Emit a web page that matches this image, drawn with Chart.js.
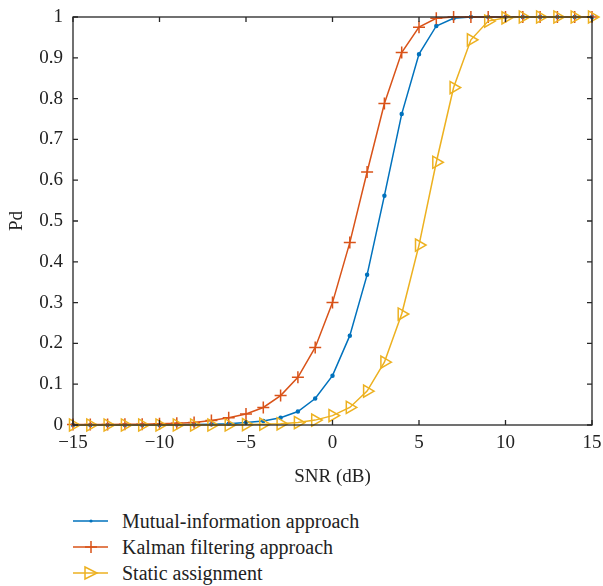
<!DOCTYPE html>
<html>
<head>
<meta charset="utf-8">
<script src="https://cdn.jsdelivr.net/npm/chart.js@4.4.1/dist/chart.umd.min.js"></script>
<style>
  body { margin: 0; background: #fff; }
  #wrap { position: relative; width: 603px; height: 495px; }
  #legend { position: absolute; left: 73px; top: 508px; font-family: "Liberation Serif", serif; font-size: 20px; color: #222; }
  #legend div { height: 26px; line-height: 26px; display: flex; align-items: center; }
  #legend svg { margin-right: 14px; }
</style>
</head>
<body>
<div id="wrap"><canvas id="graphCanvas" width="603" height="495"></canvas></div>
<div id="legend"></div>
<script>
var snr = [];
for (var s = -15; s <= 15; s++) snr.push(s);

var mutualInfo = [0, 0, 0, 0, 0, 0, 0.001, 0.001, 0.002, 0.003, 0.006, 0.01, 0.018, 0.033, 0.065, 0.121,
                  0.219, 0.368, 0.562, 0.762, 0.909, 0.978, 0.997, 1, 1, 1, 1, 1, 1, 1, 1];
var kalman = [0.001, 0.001, 0.001, 0.002, 0.002, 0.003, 0.004, 0.006, 0.011, 0.018, 0.027, 0.043, 0.072, 0.117, 0.19, 0.3,
              0.447, 0.62, 0.788, 0.913, 0.975, 0.997, 1, 1, 1, 1, 1, 1, 1, 1, 1];
var staticAssign = [0, 0, 0, 0, 0, 0, 0, 0, 0, 0, 0.001, 0.002, 0.003, 0.006, 0.012, 0.023,
                    0.043, 0.083, 0.154, 0.272, 0.441, 0.644, 0.827, 0.944, 0.99, 0.998, 1, 1, 1, 1, 1];

var names = ['Mutual-information approach', 'Kalman filtering approach', 'Static assignment'];
var colors = ['#0072BD', '#D95319', '#EDB120'];

function pts(arr) {
    var out = [];
    for (var i in arr) out.push({x: snr[i], y: arr[i]});
    return out;
}

// box around the plot with inward ticks
var boxPlugin = {
    id: 'box',
    afterDraw: function (chart) {
        var ctx = chart.ctx, a = chart.chartArea;
        var xs = chart.scales.x, ys = chart.scales.y;
        ctx.save();
        ctx.strokeStyle = '#262626';
        ctx.lineWidth = 1.3;
        ctx.strokeRect(a.left, a.top, a.right - a.left, a.bottom - a.top);
        ctx.beginPath();
        xs.ticks.forEach(function (t) {
            var px = xs.getPixelForValue(t.value);
            ctx.moveTo(px, a.bottom); ctx.lineTo(px, a.bottom - 5);
            ctx.moveTo(px, a.top); ctx.lineTo(px, a.top + 5);
        });
        ys.ticks.forEach(function (t) {
            var py = ys.getPixelForValue(t.value);
            ctx.moveTo(a.left, py); ctx.lineTo(a.left + 5, py);
            ctx.moveTo(a.right, py); ctx.lineTo(a.right - 5, py);
        });
        ctx.stroke();
        ctx.restore();
    }
};

var font = {family: '"Liberation Serif", serif', size: 19};

new Chart(document.getElementById('graphCanvas'), {
    type: 'line',
    data: {
        datasets: [
            {label: names[0], data: pts(mutualInfo), borderColor: colors[0], backgroundColor: colors[0],
             borderWidth: 1.5, pointStyle: 'circle', pointRadius: 1.5, order: 3},
            {label: names[1], data: pts(kalman), borderColor: colors[1], backgroundColor: colors[1],
             borderWidth: 1.5, pointStyle: 'cross', pointRadius: 6, pointBorderWidth: 1.5, order: 2},
            {label: names[2], data: pts(staticAssign), borderColor: colors[2], backgroundColor: 'rgba(0,0,0,0)',
             borderWidth: 1.5, pointStyle: 'triangle', pointRotation: 90, pointRadius: 7, pointBorderWidth: 1.5, order: 1}
        ]
    },
    options: {
        responsive: false,
        animation: false,
        clip: false,
        layout: {padding: {top: 17, right: 11, left: 0, bottom: 3}},
        elements: {line: {tension: 0}},
        plugins: {legend: {display: false}, tooltip: {enabled: false}},
        scales: {
            x: {
                type: 'linear', min: -15, max: 15,
                border: {display: false},
                grid: {display: false, drawTicks: false},
                ticks: {stepSize: 5, color: '#222', font: font, padding: 7,
                        callback: function (v) { return String(v).replace('-', '\u2212'); }},
                title: {display: true, text: 'SNR (dB)', color: '#222', font: font, padding: {top: 4, bottom: 4}},
                afterFit: function (sc) { sc.height = 67; sc.paddingLeft = 0; sc.paddingRight = 0; }
            },
            y: {
                min: 0, max: 1,
                border: {display: false},
                grid: {display: false, drawTicks: false},
                ticks: {stepSize: 0.1, color: '#222', font: font, padding: 10,
                        callback: function (v) { return String(Math.round(v * 10) / 10); }},
                title: {display: true, text: 'Pd', color: '#222', font: font, padding: {top: 6, bottom: 4}},
                afterFit: function (sc) { sc.width = 73; sc.paddingTop = 0; sc.paddingBottom = 0; }
            }
        }
    },
    plugins: [boxPlugin]
});

// legend below the plot
var legend = document.getElementById('legend');
var marks = [
    '<circle cx="18" cy="8" r="1.6" fill="' + colors[0] + '"/>',
    '<path d="M12 8H24M18 2V14" stroke="' + colors[1] + '" stroke-width="1.5"/>',
    '<path d="M12 2L24 8L12 14Z" fill="none" stroke="' + colors[2] + '" stroke-width="1.5"/>'
];
for (var i in names) {
    var row = document.createElement('div');
    row.innerHTML = '<svg width="35" height="16"><line x1="0" y1="8" x2="35" y2="8" stroke="' + colors[i] +
        '" stroke-width="1.5"/>' + marks[i] + '</svg><span>' + names[i] + '</span>';
    legend.appendChild(row);
}
</script>
</body>
</html>
